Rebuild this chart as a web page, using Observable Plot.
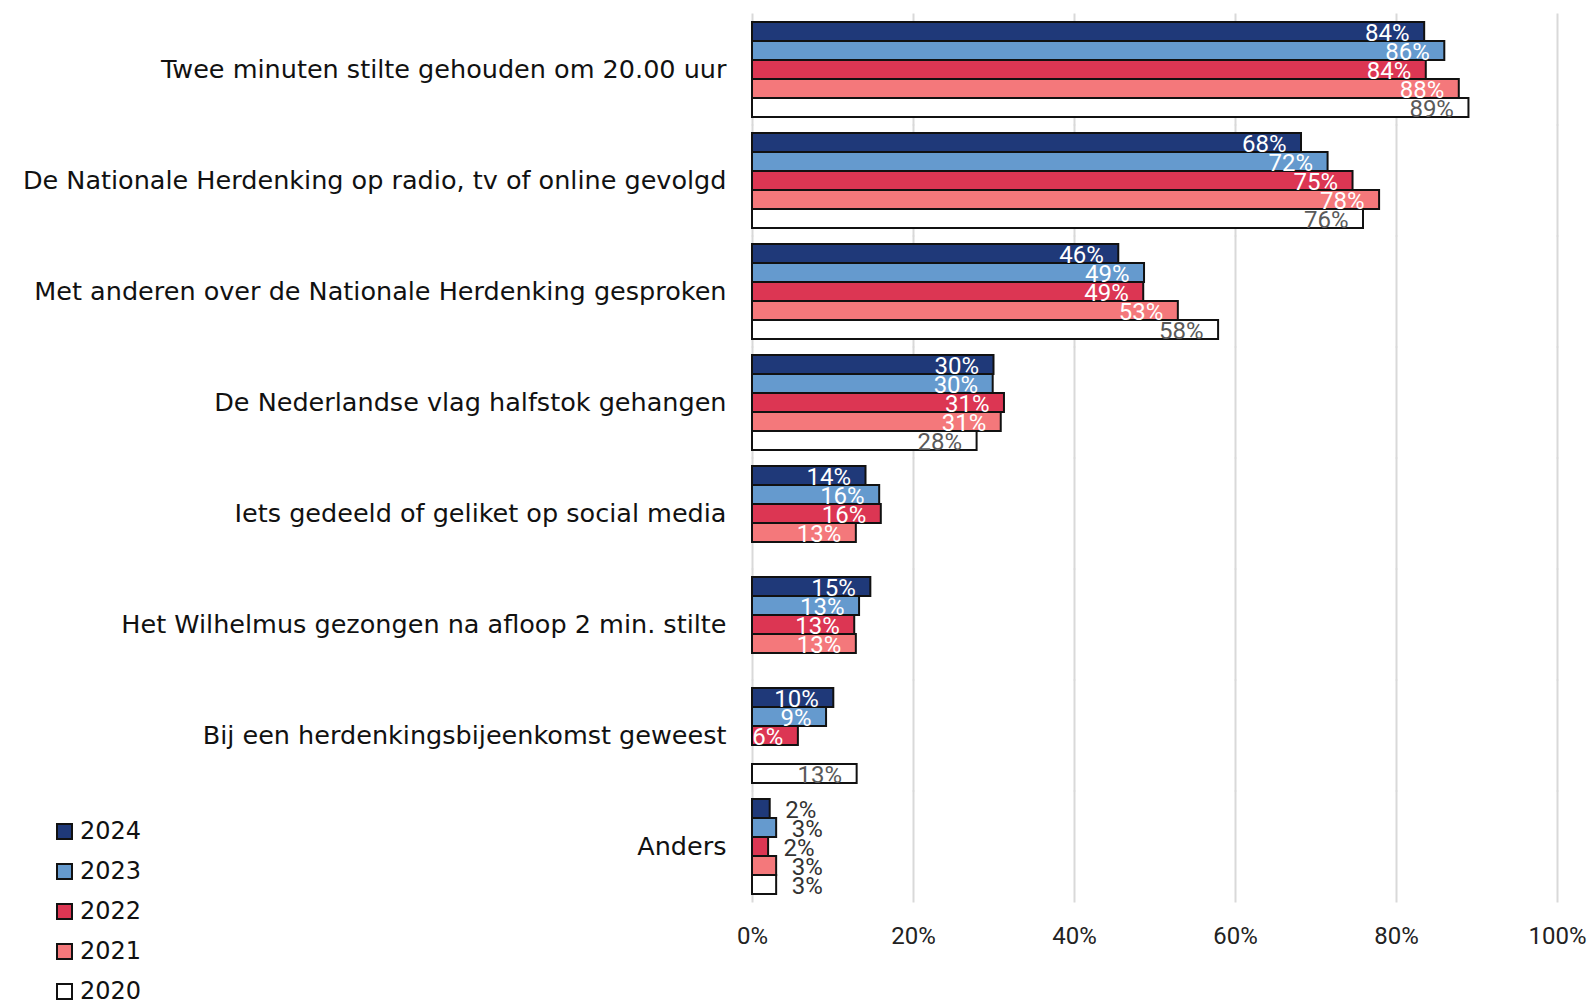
<!DOCTYPE html>
<html>
<head>
<meta charset="utf-8">
<script src="https://cdn.jsdelivr.net/npm/d3@7"></script>
<script src="https://cdn.jsdelivr.net/npm/@observablehq/plot@0.6"></script>
<style>
  html, body { margin: 0; padding: 0; background: #fff; }
  #wrap { position: relative; width: 1591px; height: 1004px; overflow: hidden; }
  #legend { position: absolute; left: 56px; top: 811px; font-family: "DejaVu Sans", sans-serif; font-size: 24px; color: #111; }
  .item { display: flex; align-items: center; height: 40px; }
  .sw { width: 13px; height: 13px; border: 2px solid #111; margin-right: 7px; box-sizing: content-box; }
</style>
</head>
<body>
<div id="wrap">
  <div id="chart"></div>
  <div id="legend"></div>
</div>
<script>
const categories = [
  "Twee minuten stilte gehouden om 20.00 uur",
  "De Nationale Herdenking op radio, tv of online gevolgd",
  "Met anderen over de Nationale Herdenking gesproken",
  "De Nederlandse vlag halfstok gehangen",
  "Iets gedeeld of geliket op social media",
  "Het Wilhelmus gezongen na afloop 2 min. stilte",
  "Bij een herdenkingsbijeenkomst geweest",
  "Anders"
];
const years = ["2024", "2023", "2022", "2021", "2020"];
const v2024 = [83.5, 68.2, 45.5, 30.0, 14.1, 14.7, 10.1, 2.2];
const v2023 = [86.0, 71.5, 48.7, 29.9, 15.8, 13.3, 9.2, 3.0];
const v2022 = [83.7, 74.6, 48.6, 31.3, 16.0, 12.7, 5.7, 2.0];
const v2021 = [87.8, 77.9, 52.9, 30.9, 12.9, 12.9, null, 3.0];
const v2020 = [89.0, 75.9, 57.9, 27.9, null, null, 13.0, 3.0];
const colors = ["#1f3979", "#659ace", "#dc3653", "#f4787b", "#ffffff"];
const labelColors = ["#ffffff", "#ffffff", "#ffffff", "#ffffff", "#595959"];
const xTicks = [0, 20, 40, 60, 80, 100];

const series = [v2024, v2023, v2022, v2021, v2020];
const data = [];
categories.forEach((c, i) => {
  years.forEach((y, j) => {
    const v = series[j][i];
    if (v != null) data.push({category: c, year: y, value: v, yi: j});
  });
});
const numFont = "Roboto, sans-serif";

const chart = Plot.plot({
  width: 1591,
  height: 1004,
  marginLeft: 752,
  marginRight: 34,
  marginTop: 12,
  marginBottom: 100,
  style: {fontFamily: "DejaVu Sans, sans-serif", background: "#fff"},
  x: {domain: [0, 100]},
  y: {domain: years, padding: 0, axis: null},
  fy: {domain: categories, paddingInner: 0.145, paddingOuter: 0.0725, label: null},
  color: {domain: years, range: colors},
  marks: [
    Plot.gridX(xTicks, {stroke: "#d9d9d9", strokeOpacity: 1, strokeWidth: 2, insetTop: -8.5, insetBottom: -8.5}),
    Plot.barX(data, {x: "value", y: "year", fy: "category", fill: "year", stroke: "#111", strokeWidth: 2}),
    Plot.text(data.filter(d => d.value >= 5), {
      x: "value", y: "year", fy: "category", text: d => Math.round(d.value) + "%",
      textAnchor: "end", dx: -15, dy: 1, fontSize: 24, fontFamily: numFont,
      fill: d => labelColors[d.yi]
    }),
    Plot.text(data.filter(d => d.value < 5), {
      x: "value", y: "year", fy: "category", text: d => Math.round(d.value) + "%",
      textAnchor: "start", dx: 15, dy: 1, fontSize: 24, fontFamily: numFont,
      fill: "#333"
    }),
    Plot.axisFy({anchor: "left", tickSize: 0, tickPadding: 26, fontSize: 25.5, label: null, fill: "#111"}),
    Plot.axisX(xTicks, {anchor: "bottom", tickSize: 0, tickPadding: 32, fontSize: 24, label: null,
      tickFormat: d => d + "%", fontFamily: numFont, fill: "#222"})
  ]
});
document.getElementById("chart").appendChild(chart);

const legend = document.getElementById("legend");
years.forEach((y, j) => {
  const it = document.createElement("div");
  it.className = "item";
  const sw = document.createElement("span");
  sw.className = "sw";
  sw.style.background = colors[j];
  const t = document.createElement("span");
  t.textContent = y;
  it.appendChild(sw);
  it.appendChild(t);
  legend.appendChild(it);
});
</script>
</body>
</html>
